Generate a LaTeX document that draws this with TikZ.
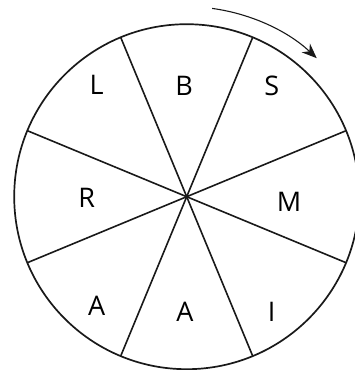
\documentclass[tikz,border=0pt]{standalone}
\usepackage{fontspec}
\setmainfont{Open Sans}
\usetikzlibrary{arrows.meta,calc}

\begin{document}
\begin{tikzpicture}[
    x=1pt, y=1pt,
    wheel/.style={draw=black!90, line width=1.7pt},
    spoke/.style={draw=black!90, line width=1.6pt},
    letter/.style={font=\fontsize{27}{27}\selectfont, inner sep=0pt},
    turn/.style={-{Stealth[length=15pt, width=12pt]}, line width=1.1pt, black!90},
]
\useasboundingbox (0,0) rectangle (354,370);
\coordinate (hub) at (186.7,173.3);

% wheel and spokes
\draw[wheel] (hub) circle (172.5);
\foreach \a in {22.5,67.5,112.5,157.5}
    \draw[spoke] ($(hub)+(\a:172.5)$) -- ($(hub)+(\a+180:172.5)$);

% letters
\node[letter] (l) at (96.7,285) {L};
\node[letter] (b) at (184,284) {B};
\node[letter] (s) at (271.7,284) {S};
\node[letter] (r) at (86.7,172) {R};
\node[letter] (m) at (289,168.3) {M};
\node[letter] (a1) at (96.7,64) {A};
\node[letter] (a2) at (185,58.3) {A};
\node[letter] (i) at (271.7,58.3) {I};

% direction of turn
\draw[turn] ($(hub)+(82.3:190)$) arc[start angle=82.3, end angle=46.8, radius=190];
\end{tikzpicture}
\end{document}
